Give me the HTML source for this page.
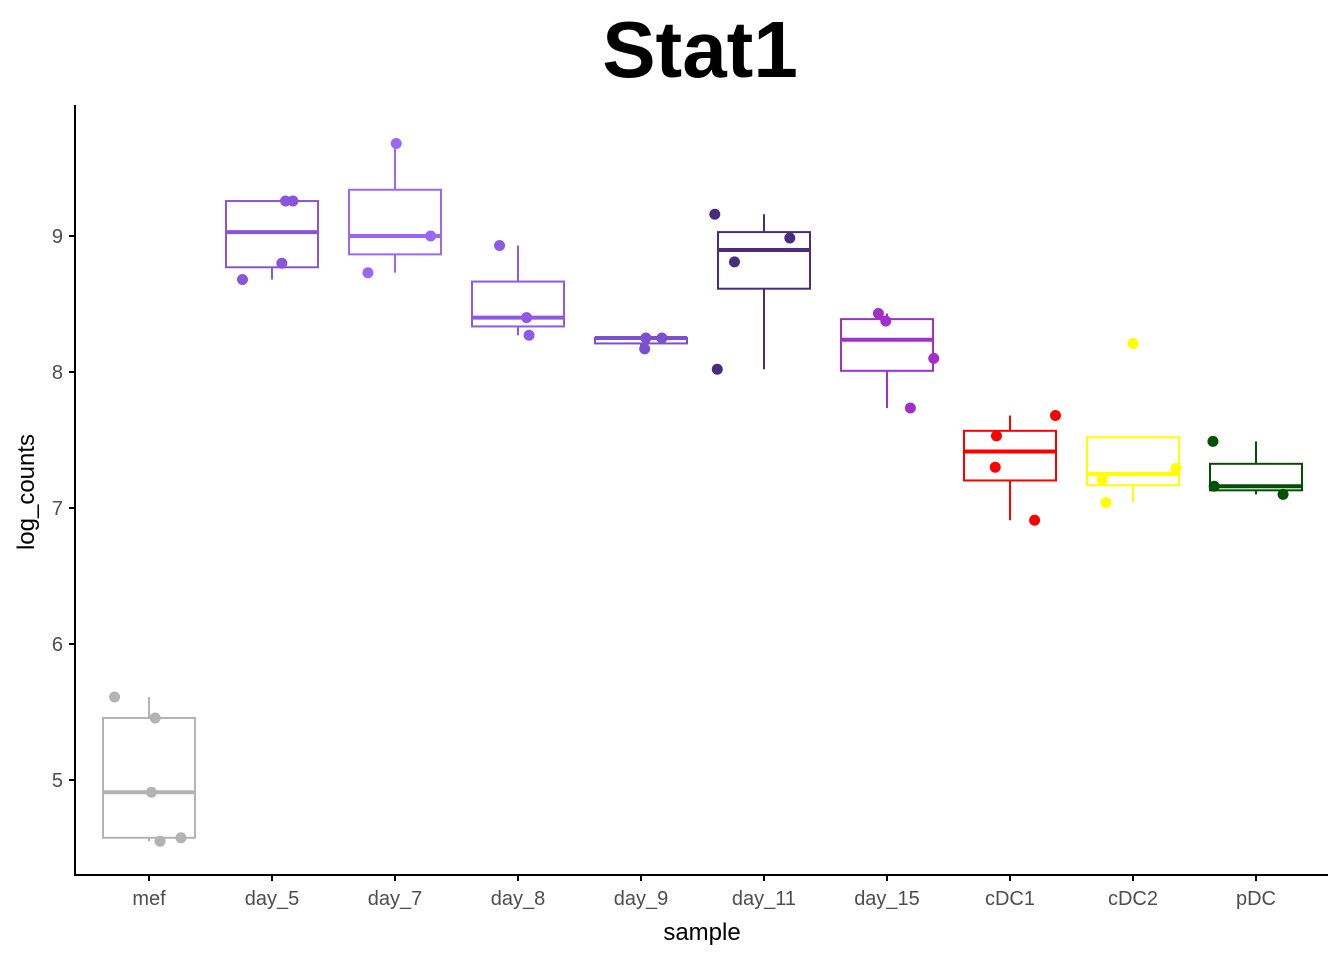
<!DOCTYPE html>
<html><head><meta charset="utf-8"><style>
html,body{margin:0;padding:0;background:#fff;}
svg{display:block;font-family:"Liberation Sans",Arial,sans-serif;}
</style></head><body>
<svg id="chart" width="1344" height="960" viewBox="0 0 1344 960">
<text x="700" y="77" text-anchor="middle" font-size="80" font-weight="bold" fill="#000">Stat1</text>
<g id="marks"></g>
<line x1="75" y1="105" x2="75" y2="876" stroke="#000" stroke-width="2"/>
<line x1="74" y1="875" x2="1328" y2="875" stroke="#000" stroke-width="2"/>
<g id="axes"></g>
<text x="702" y="940" text-anchor="middle" font-size="24" fill="#000">sample</text>
<text transform="translate(34,492) rotate(-90)" text-anchor="middle" font-size="24" fill="#000">log_counts</text>
</svg>
<script>
const categories=["mef","day_5","day_7","day_8","day_9","day_11","day_15","cDC1","cDC2","pDC"];
const colors=["#b3b3b3","#8a55d9","#9d66f7","#9058e8","#7a50cc","#4a2c7e","#a030c8","#ff0000","#ffff00","#005200"];
const values=[
 [5.61,5.456,4.91,4.55,4.575],
 [8.68,8.80,9.257,9.257],
 [9.68,9.0,8.73],
 [8.93,8.40,8.27],
 [8.25,8.25,8.17],
 [9.16,8.985,8.81,8.02],
 [8.43,8.375,8.10,7.735],
 [7.68,7.53,7.30,6.91],
 [8.21,7.29,7.21,7.04],
 [7.49,7.16,7.10]
];
const jitter=[
 [-0.28,0.05,0.02,0.09,0.26],
 [-0.24,0.08,0.11,0.17],
 [0.01,0.29,-0.22],
 [-0.15,0.07,0.09],
 [0.04,0.17,0.03],
 [-0.40,0.21,-0.24,-0.38],
 [-0.07,-0.01,0.38,0.19],
 [0.37,-0.11,-0.12,0.20],
 [0.0,0.35,-0.25,-0.22],
 [-0.35,-0.34,0.22]
];
const yTicks=[5,6,7,8,9];
const NS="http://www.w3.org/2000/svg";
const x=i=>149+i*123;
const y=v=>236+(9-v)*136;
function mk(t,a,p){const e=document.createElementNS(NS,t);for(const k in a)e.setAttribute(k,a[k]);p.appendChild(e);return e;}
function q(s,p){const h=(s.length-1)*p,l=Math.floor(h),u=Math.ceil(h);return s[l]+(s[u]-s[l])*(h-l);}
const marks=document.getElementById('marks'),axes=document.getElementById('axes');
categories.forEach((c,i)=>{
 const s=values[i].slice().sort((a,b)=>a-b);
 const q1=q(s,0.25),md=q(s,0.5),q3=q(s,0.75),iqr=q3-q1;
 const lo=Math.min(...s.filter(v=>v>=q1-1.5*iqr)),hi=Math.max(...s.filter(v=>v<=q3+1.5*iqr));
 const g=mk('g',{},marks);
 
 
 const col=colors[i],cx=x(i),hw=46;
 mk('line',{x1:cx,x2:cx,y1:y(q3),y2:y(Math.max(hi,q3)),stroke:col,'stroke-width':2},g);
 mk('line',{x1:cx,x2:cx,y1:y(q1),y2:y(Math.min(lo,q1)),stroke:col,'stroke-width':2},g);
 mk('rect',{x:cx-hw,y:y(q3),width:2*hw,height:y(q1)-y(q3),fill:'#fff',stroke:col,'stroke-width':2},g);
 mk('line',{x1:cx-hw,x2:cx+hw,y1:y(md),y2:y(md),stroke:col,'stroke-width':4},g);
 values[i].forEach((v,j)=>{
  const p=mk('circle',{cx:x(i+jitter[i][j]),cy:y(v),r:5.5,fill:col},g);
  
  
 });
 mk('line',{x1:cx,x2:cx,y1:875,y2:881,stroke:'#000','stroke-width':2},axes);
 const t=mk('text',{x:cx,y:905,'text-anchor':'middle','font-size':20,fill:'#4d4d4d'},axes);
 t.textContent=c;
 
 
});
yTicks.forEach(v=>{
 mk('line',{x1:69,x2:75,y1:y(v),y2:y(v),stroke:'#000','stroke-width':2},axes);
 const t=mk('text',{x:63,y:y(v)+7,'text-anchor':'end','font-size':20,fill:'#4d4d4d'},axes);
 t.textContent=v;
 
 
});
</script>
</body></html>
